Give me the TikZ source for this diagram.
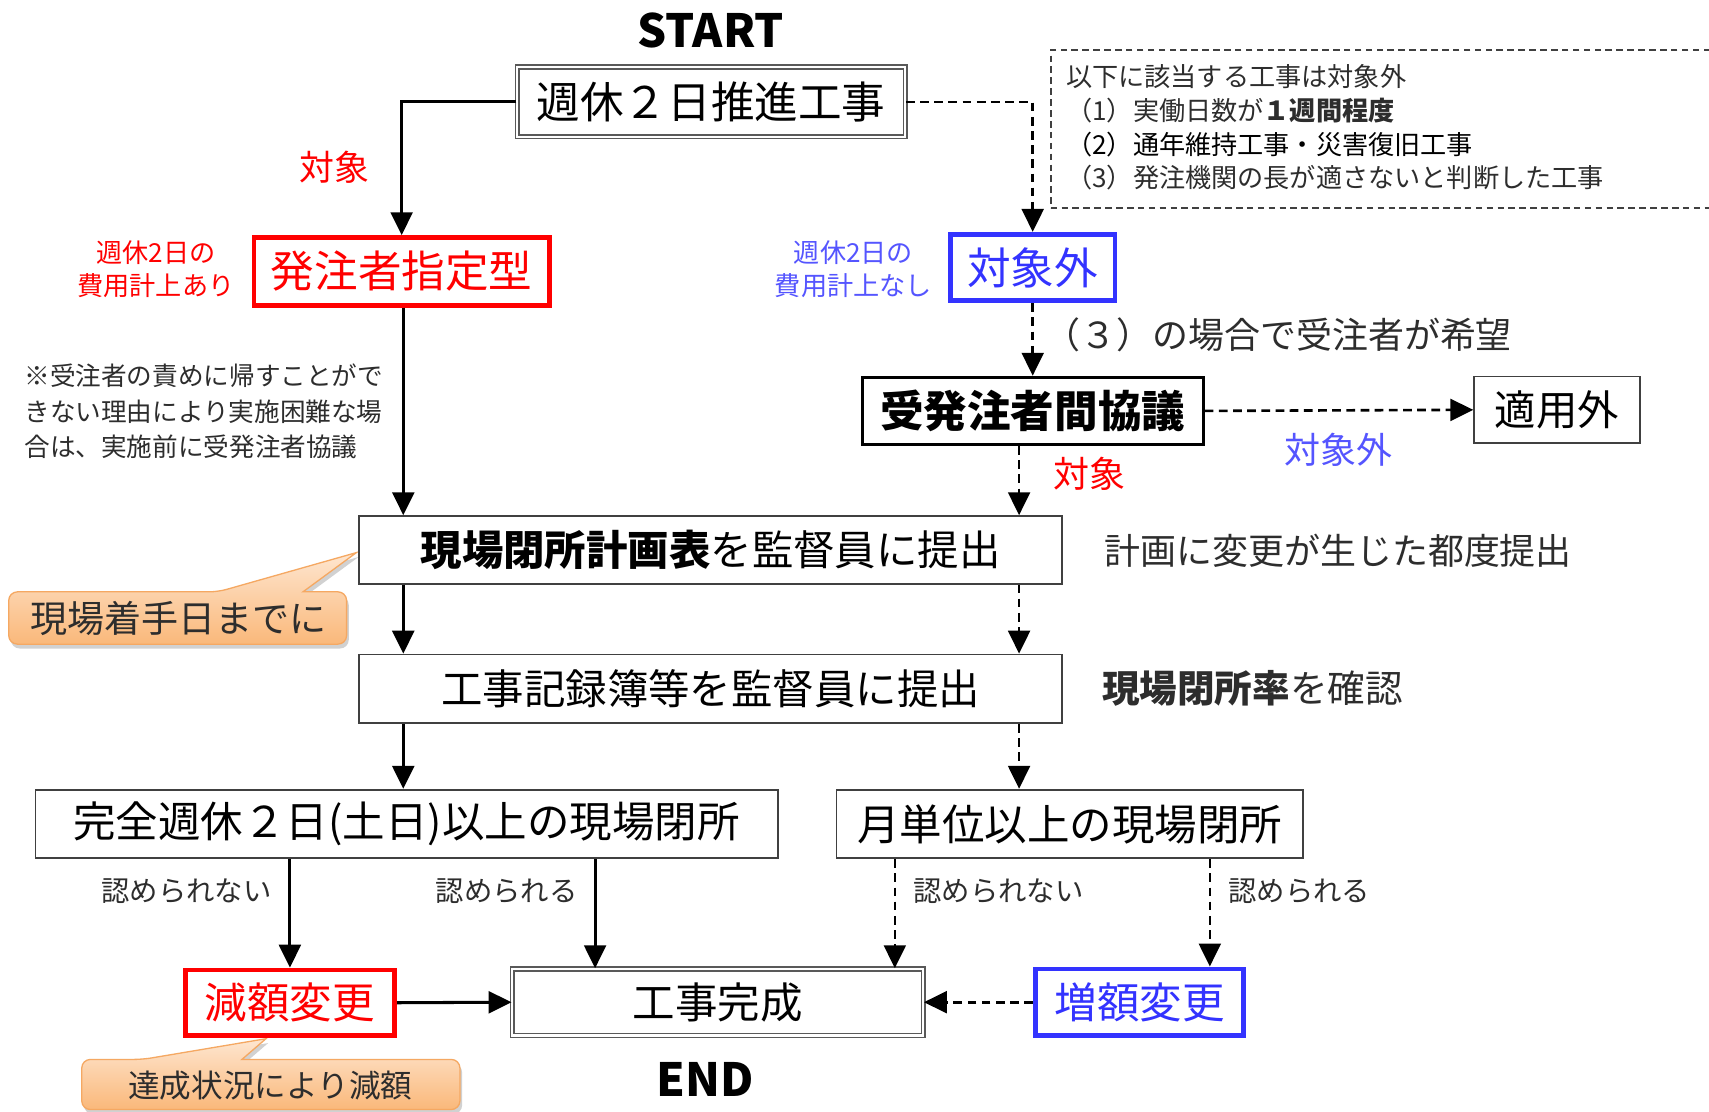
\documentclass[tikz,border=0pt]{standalone}
\usepackage{fontspec}
\setmainfont{Noto Sans CJK JP}
\usetikzlibrary{arrows.meta,calc}
\definecolor{myred}{RGB}{255,0,0}
\definecolor{myblue}{RGB}{51,51,255}
\definecolor{lblue}{RGB}{85,85,255}
\definecolor{cotop}{RGB}{254,230,208}
\definecolor{cobot}{RGB}{250,184,122}
\definecolor{coline}{RGB}{245,168,98}
\definecolor{txtgray}{RGB}{45,45,45}
\newcommand\fsz[1]{\fontsize{#1}{#1}\selectfont}
\tikzset{
  box/.style={draw=black!75, line width=1.6pt, inner sep=0pt, fill=white},
  dbox/.style={draw=black!65, double=white, double distance=2pt, line width=1.4pt, inner sep=0pt},
  redbox/.style={draw=myred, line width=4.5pt, text=myred, inner sep=0pt, fill=white},
  bluebox/.style={draw=myblue, line width=4.5pt, text=myblue, inner sep=0pt, fill=white},
  arr/.style={-{Triangle[length=21pt,width=20pt]}, line width=2.8pt},
  darr/.style={-{Triangle[length=21pt,width=20pt]}, line width=2.4pt, dash pattern=on 8pt off 5pt},
  copath/.style={draw=coline, line width=1.2pt, top color=cotop, bottom color=cobot},
  coshadow/.style={fill=black, opacity=0.18},
  coA/.style={insert path={(8,567) [rounded corners=8pt] -- (8,543) -- (200,543) [sharp corners] -- (327,507) -- (278,543) [rounded corners=8pt] -- (318,543) -- (318,591) -- (8,591) -- cycle}},
  coB/.style={insert path={(75,995) [rounded corners=8pt] -- (75,972) -- (131,972) [sharp corners] -- (244,953) -- (222,972) [rounded corners=8pt] -- (422,972) -- (422,1018) -- (75,1018) -- cycle}},
}
\begin{document}
\begin{tikzpicture}[x=1pt,y=-1pt]
\useasboundingbox (0,0) rectangle (1568,1020);
\clip (0,0) rectangle (1568,1020);
\fill[white] (0,0) rectangle (1568,1020);

% callout shapes
\path[coshadow, shift={(2,4)}, coA];
\path[copath, coA];
\path[coshadow, shift={(2,4)}, coB];
\path[copath, coB];

% nodes
\node[font=\bfseries\fsz{42}] (start) at (652,28) {START};
\node[dbox, minimum width=356, minimum height=64, font=\fsz{40}] (b1) at (652.5,93.5) {週休２日推進工事};

\node[draw=black!75, line width=2pt, dash pattern=on 6pt off 4pt, anchor=north west, minimum width=700, minimum height=145, inner sep=0pt] (info) at (963,45) {};
\node[anchor=west, align=left, text=txtgray, font=\fontsize{24}{31}\selectfont, inner sep=0pt] (infotxt) at (978,117)
  {以下に該当する工事は対象外\\
   （1）実働日数が\textbf{１週間程度}\\
   \textcolor{black}{（2）通年維持工事・災害復旧工事}\\
   （3）発注機関の長が適さないと判断した工事};

\node[font=\fsz{32}, text=myred] (lbl1) at (307,153) {対象};
\node[redbox, minimum width=271, minimum height=62, font=\fsz{40}] (hatchu) at (368.5,249) {発注者指定型};
\node[text=myred, align=center, font=\fontsize{24}{30}\selectfont] (hnote) at (143,247) {週休2日の\\費用計上あり};

\node[bluebox, minimum width=151, minimum height=61, font=\fsz{40}] (taisho) at (947.5,245.5) {対象外};
\node[text=lblue, align=center, font=\fontsize{24}{30}\selectfont] (tnote) at (783,247) {週休2日の\\費用計上なし};

\node[anchor=west, font=\fsz{33}, text=txtgray, inner sep=0pt] (cond3) at (958,307) {（３）の場合で受注者が希望};

\node[draw=black, line width=2.6pt, inner sep=0pt, minimum width=313, minimum height=62, font=\bfseries\fsz{40}] (kyogi) at (947.5,377) {受発注者間協議};
\node[box, minimum width=152, minimum height=61, font=\fsz{38}] (tekiyo) at (1428.5,376) {適用外};
\node[text=lblue, font=\fsz{33}] (lbl2) at (1228,413) {対象外};
\node[text=myred, font=\fsz{33}] (lbl3) at (1000,435) {対象};

\node[text=txtgray, align=left, font=\fontsize{23.5}{32.5}\selectfont] (note) at (187,377.5) {※受注者の責めに帰すことがで\\きない理由により実施困難な場\\合は、実施前に受発注者協議};

\node[box, minimum width=645, minimum height=62, font=\fsz{38}] (keikaku) at (652,504.5) {\textbf{現場閉所計画表}を監督員に提出};
\node[anchor=west, font=\fsz{33}, text=txtgray, inner sep=0pt] (keikakur) at (1013,505) {計画に変更が生じた都度提出};

\node[font=\fsz{34}, text=txtgray] (coAtxt) at (164,567) {現場着手日までに};

\node[box, minimum width=645, minimum height=63, font=\fsz{38}] (kiroku) at (652,632) {工事記録簿等を監督員に提出};
\node[anchor=west, font=\fsz{34.5}, text=txtgray, inner sep=0pt] (kirokur) at (1011,632) {\textbf{現場閉所率}を確認};

\node[box, minimum width=681, minimum height=63, font=\fsz{39}] (kanzen) at (373,756) {完全週休２日(土日)以上の現場閉所};
\node[box, minimum width=428, minimum height=63, font=\fsz{39}] (tsuki) at (981.5,756) {月単位以上の現場閉所};

\node[font=\fsz{26}, text=txtgray] (n1) at (171,818) {認められない};
\node[font=\fsz{26}, text=txtgray] (y1) at (465,818) {認められる};
\node[font=\fsz{26}, text=txtgray] (n2) at (916,818) {認められない};
\node[font=\fsz{26}, text=txtgray] (y2) at (1192,818) {認められる};

\node[redbox, minimum width=192, minimum height=60, font=\fsz{39}] (gengaku) at (266,920) {減額変更};
\node[dbox, minimum width=377, minimum height=61, font=\fsz{39}] (kansei) at (658.5,919.5) {工事完成};
\node[bluebox, minimum width=191, minimum height=61, font=\fsz{39}] (zougaku) at (1045.5,919.5) {増額変更};
\node[font=\bfseries\fsz{42}] (end) at (647,990) {END};
\node[font=\fsz{29}, text=txtgray] (coBtxt) at (248,996) {達成状況により減額};

% column coordinates
\coordinate (lc) at (370,0);
\coordinate (rc) at (935,0);
\coordinate (c546) at (546,0);
\coordinate (c821) at (821,0);
\coordinate (c1110) at (1110,0);

% connectors
\draw[arr] (b1.west) -| (hatchu.north);
\draw[darr] (b1.east) -| (taisho.north);
\draw[darr] (taisho.south) -- (kyogi.north);
\draw[darr] (kyogi.east) -- (tekiyo.west);
\draw[darr] (kyogi.south -| rc) -- (keikaku.north -| rc);
\draw[arr] (hatchu.south -| lc) -- (keikaku.north -| lc);
\draw[arr] (keikaku.south -| lc) -- (kiroku.north -| lc);
\draw[darr] (keikaku.south -| rc) -- (kiroku.north -| rc);
\draw[arr] (kiroku.south -| lc) -- (kanzen.north -| lc);
\draw[darr] (kiroku.south -| rc) -- (tsuki.north -| rc);
\draw[arr] (kanzen.south -| gengaku.north) -- (gengaku.north);
\draw[arr] (kanzen.south -| c546) -- (kansei.north -| c546);
\draw[darr] (tsuki.south -| c821) -- (kansei.north -| c821);
\draw[darr] (tsuki.south -| c1110) -- (zougaku.north -| c1110);
\draw[arr] (gengaku.east) -- (kansei.west);
\draw[darr] (zougaku.west) -- (kansei.east);
\end{tikzpicture}
\end{document}
